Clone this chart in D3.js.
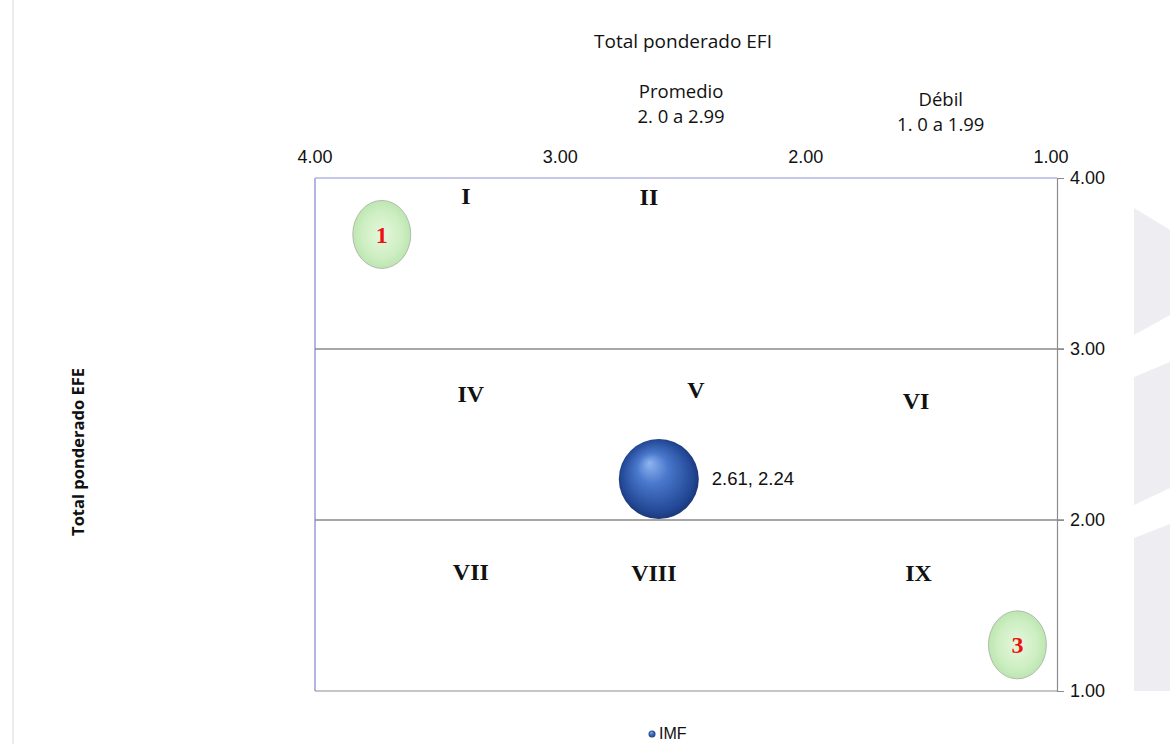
<!DOCTYPE html>
<html>
<head>
<meta charset="utf-8">
<script src="https://cdn.jsdelivr.net/npm/d3@7"></script>
<style>
  html, body { margin: 0; padding: 0; background: #ffffff; }
  svg { display: block; }
</style>
</head>
<body>
<svg id="chart" width="1170" height="744"></svg>
<script>
// Matriz interna-externa (IE): total ponderado EFI vs total ponderado EFE
const xTicks = [4, 3, 2, 1];
const yTicks = [4, 3, 2, 1];
const dividerValues = [3, 2];

const zoneNames = ["I", "II", "IV", "V", "VI", "VII", "VIII", "IX"];
const zoneX = [3.39, 2.65, 3.37, 2.46, 1.57, 3.37, 2.63, 1.56];
const zoneY = [3.90, 3.89, 2.74, 2.76, 2.70, 1.70, 1.69, 1.69];

const headerTitles = ["Promedio", "Débil"];
const headerRanges = ["2. 0 a 2.99", "1. 0 a 1.99"];
const headerX = [2.52, 1.47];

const seriesName = "IMF";
const seriesEFI = [2.61];
const seriesEFE = [2.24];

const markerLabels = ["1", "3"];
const markerEFI = [3.73, 1.16];
const markerEFE = [3.67, 1.27];

const svg = d3.select("#chart");
const plotLeft = 315, plotRight = 1057, plotTop = 178, plotBottom = 691;
const sansUI = "Open Sans, Noto Sans, sans-serif";
const sansNum = "Liberation Sans, Arial, sans-serif";
const serif = "Liberation Serif, Times New Roman, serif";

const x = d3.scaleLinear().domain([4, 1]).range([plotLeft, plotRight]);
const y = d3.scaleLinear().domain([1, 4]).range([plotBottom, plotTop]);

const defs = svg.append("defs");
const ball = defs.append("radialGradient").attr("id", "ball")
  .attr("cx", "50%").attr("cy", "50%").attr("r", "55%")
  .attr("fx", "38%").attr("fy", "30%");
ball.append("stop").attr("offset", "0%").attr("stop-color", "#8fb6f0");
ball.append("stop").attr("offset", "35%").attr("stop-color", "#4a78cc");
ball.append("stop").attr("offset", "80%").attr("stop-color", "#244a98");
ball.append("stop").attr("offset", "100%").attr("stop-color", "#17306a");

const leaf = defs.append("radialGradient").attr("id", "leaf")
  .attr("cx", "50%").attr("cy", "50%").attr("r", "50%");
leaf.append("stop").attr("offset", "0%").attr("stop-color", "#e6f7dc");
leaf.append("stop").attr("offset", "70%").attr("stop-color", "#cdeec2");
leaf.append("stop").attr("offset", "100%").attr("stop-color", "#bde6b0");

// decorative page frame and side chevrons
svg.append("line").attr("x1", 13).attr("x2", 13).attr("y1", 0).attr("y2", 744)
  .attr("stroke", "#e6e6e6").attr("stroke-width", 1.5);
const chevrons = [
  [[1134, 208], [1170, 230], [1170, 315], [1134, 335]],
  [[1134, 377], [1170, 362], [1170, 488], [1134, 505]],
  [[1134, 538], [1170, 524], [1170, 691], [1134, 691]]
];
svg.selectAll("polygon.chev").data(chevrons).enter().append("polygon")
  .attr("class", "chev")
  .attr("points", d => d.map(p => p.join(",")).join(" "))
  .attr("fill", "#eeeef2");

// plot frame
svg.append("line").attr("x1", plotLeft).attr("x2", plotRight).attr("y1", plotTop).attr("y2", plotTop)
  .attr("stroke", "#b4b4e2").attr("stroke-width", 1.5);
svg.append("line").attr("x1", plotLeft).attr("x2", plotLeft).attr("y1", plotTop).attr("y2", plotBottom)
  .attr("stroke", "#b4b4e2").attr("stroke-width", 2);
svg.append("line").attr("x1", plotLeft).attr("x2", plotRight).attr("y1", plotBottom).attr("y2", plotBottom)
  .attr("stroke", "#8c8c8c").attr("stroke-width", 1.2);

// dividers between zones
svg.selectAll("line.div").data(dividerValues).enter().append("line")
  .attr("class", "div")
  .attr("x1", plotLeft).attr("x2", plotRight + 7)
  .attr("y1", d => y(d)).attr("y2", d => y(d))
  .attr("stroke", "#8a8a8a").attr("stroke-width", 1.5);

// right-hand EFE axis
const yAxis = svg.append("g").attr("transform", `translate(${plotRight},0)`)
  .call(d3.axisRight(y).tickValues(yTicks).tickFormat(d3.format(".2f")).tickSize(7).tickPadding(6));
yAxis.select(".domain").attr("stroke", "#8c8c8c").attr("stroke-width", 1.2);
yAxis.selectAll(".tick line").attr("stroke", "#8c8c8c");
yAxis.selectAll(".tick text").attr("font-family", sansNum)
  .attr("font-size", 18).attr("fill", "#111");

// top EFI tick labels
svg.selectAll("text.xt").data(xTicks).enter().append("text")
  .attr("class", "xt")
  .attr("x", (d, i) => x(d) - 2 * i).attr("y", 163)
  .attr("text-anchor", "middle")
  .attr("font-family", sansNum)
  .attr("font-size", 18).attr("fill", "#111")
  .text(d => d3.format(".2f")(d));

// titles
svg.append("text").attr("x", 683).attr("y", 48).attr("text-anchor", "middle")
  .attr("font-family", sansUI).attr("font-size", 19)
  .attr("fill", "#111").text("Total ponderado EFI");
svg.append("text")
  .attr("transform", "translate(84,452) rotate(-90)")
  .attr("text-anchor", "middle")
  .attr("font-family", sansUI).attr("font-size", 16.5)
  .attr("font-weight", "bold").attr("fill", "#111").text("Total ponderado EFE");

const headers = svg.selectAll("g.hdr").data(headerTitles).enter().append("g").attr("class", "hdr");
headers.append("text").attr("x", (d, i) => x(headerX[i])).attr("y", 98)
  .attr("text-anchor", "middle")
  .attr("font-family", sansUI).attr("font-size", 18.5)
  .attr("fill", "#111").text(d => d);
headers.append("text").attr("x", (d, i) => x(headerX[i])).attr("y", 123)
  .attr("text-anchor", "middle")
  .attr("font-family", sansUI).attr("font-size", 18.5)
  .attr("fill", "#111").text((d, i) => headerRanges[i]);
// second header block sits slightly lower
headers.filter((d, i) => i === 1).attr("transform", "translate(0,8)");

// zone numerals
svg.selectAll("text.zone").data(zoneNames).enter().append("text")
  .attr("class", "zone")
  .attr("x", (d, i) => x(zoneX[i])).attr("y", (d, i) => y(zoneY[i]))
  .attr("text-anchor", "middle").attr("dy", "0.35em")
  .attr("font-family", serif)
  .attr("font-size", 24).attr("font-weight", "bold").attr("fill", "#111")
  .text(d => d);

// reference markers
const marks = svg.selectAll("g.mark").data(markerLabels).enter().append("g").attr("class", "mark")
  .attr("transform", (d, i) => `translate(${x(markerEFI[i])},${y(markerEFE[i])})`);
marks.append("ellipse").attr("rx", 29).attr("ry", 34)
  .attr("fill", "url(#leaf)").attr("stroke", "#a4ada4").attr("stroke-width", 0.8);
marks.append("text").attr("text-anchor", "middle").attr("dy", "0.35em")
  .attr("font-family", serif)
  .attr("font-size", 24).attr("font-weight", "bold").attr("fill", "#ee1111")
  .text(d => d);

// IMF bubble
const bubble = svg.selectAll("g.bub").data(seriesEFI).enter().append("g").attr("class", "bub");
bubble.append("circle")
  .attr("cx", (d, i) => x(d)).attr("cy", (d, i) => y(seriesEFE[i]))
  .attr("r", 40).attr("fill", "url(#ball)");
bubble.append("text")
  .attr("x", (d, i) => x(d) + 53).attr("y", (d, i) => y(seriesEFE[i]))
  .attr("dy", "0.35em")
  .attr("font-family", sansNum).attr("font-size", 18.5)
  .attr("fill", "#111")
  .text((d, i) => `${d3.format(".2f")(d)}, ${d3.format(".2f")(seriesEFE[i])}`);

// legend
svg.append("circle").attr("cx", 652).attr("cy", 734).attr("r", 3.5).attr("fill", "url(#ball)");
svg.append("text").attr("x", 659).attr("y", 739)
  .attr("font-family", sansNum).attr("font-size", 16)
  .attr("fill", "#111").text(seriesName);
</script>
</body>
</html>
